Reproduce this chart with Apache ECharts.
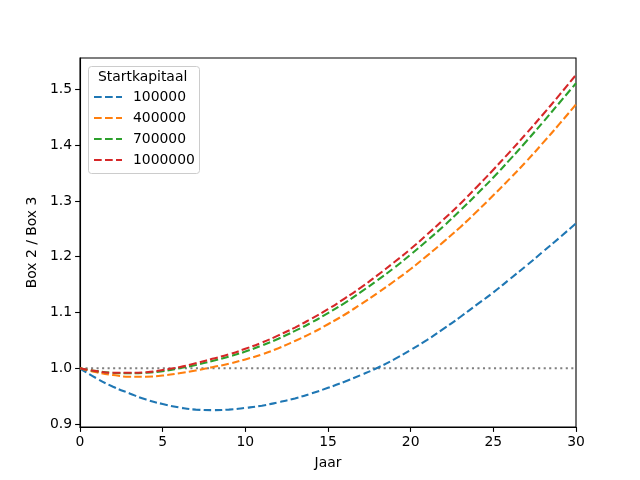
<!DOCTYPE html>
<html>
<head>
<meta charset="utf-8">
<script src="https://cdn.jsdelivr.net/npm/echarts@6/dist/echarts.min.js"></script>
<style>html,body{margin:0;padding:0;background:#fff}#c{width:640px;height:480px}</style>
</head>
<body>
<div id="c"></div>
<script>
const years = [0,1,2,3,4,5,6,7,8,9,10,11,12,13,14,15,16,17,18,19,20,21,22,23,24,25,26,27,28,29,30];
const seriesNames = ['100000','400000','700000','1000000'];
const s100000 = [1.000,0.982,0.967,0.955,0.944,0.936,0.930,0.926,0.925,0.926,0.929,0.933,0.939,0.946,0.955,0.965,0.976,0.988,1.001,1.016,1.033,1.051,1.071,1.092,1.114,1.136,1.160,1.184,1.209,1.234,1.260];
const s400000 = [1.000,0.993,0.988,0.985,0.985,0.987,0.991,0.996,1.002,1.008,1.016,1.025,1.036,1.049,1.063,1.079,1.096,1.115,1.135,1.156,1.178,1.202,1.227,1.253,1.281,1.310,1.340,1.371,1.404,1.438,1.473];
const s700000 = [1.000,0.995,0.992,0.991,0.992,0.995,1.000,1.006,1.013,1.021,1.030,1.041,1.053,1.067,1.082,1.099,1.117,1.137,1.158,1.180,1.204,1.229,1.255,1.283,1.312,1.342,1.374,1.407,1.441,1.476,1.511];
const s1000000 = [1.000,0.995,0.992,0.992,0.993,0.997,1.002,1.009,1.017,1.025,1.035,1.046,1.059,1.073,1.089,1.106,1.125,1.145,1.167,1.190,1.214,1.240,1.267,1.295,1.325,1.356,1.388,1.421,1.455,1.490,1.526];
const refLineX = [0, 30];
const refLineY = [1, 1];
const yTicks = [0.9,1.0,1.1,1.2,1.3,1.4,1.5];
const colors = ['#1f77b4','#ff7f0e','#2ca02c','#d62728'];

const allSeries = [s100000, s400000, s700000, s1000000];
const font = 'DejaVu Sans';
const chart = echarts.init(document.getElementById('c'), null, {renderer:'canvas'});
const series = allSeries.map((vals, i) => ({
  name: seriesNames[i],
  type: 'line',
  data: years.map((x, j) => [x, vals[j]]),
  smooth: true,
  symbol: 'none',
  color: colors[i],
  lineStyle: {width: 2.08, type: [7.7, 3.3], color: colors[i]},
  z: 3 + i
}));
series.unshift({
  name: 'ref',
  type: 'line',
  data: refLineX.map((x, j) => [x, refLineY[j]]),
  symbol: 'none',
  lineStyle: {width: 2.08, type: [2.08, 3.44], color: '#808080'},
  z: 2
});
chart.setOption({
  animation: false,
  textStyle: {fontFamily: font},
  grid: {left: 80, right: 64, top: 58, bottom: 53, show: true, borderColor: '#000', borderWidth: 1.1, backgroundColor: 'transparent'},
  xAxis: {
    type: 'value', min: 0, max: 30, interval: 5,
    name: 'Jaar', nameLocation: 'middle', nameGap: 29,
    nameTextStyle: {fontSize: 13.9, color: '#000', fontFamily: font, verticalAlign: 'top'},
    axisLine: {show: true, lineStyle: {color: '#000', width: 1.1}},
    axisTick: {show: true, inside: false, length: 4.9, lineStyle: {color: '#000', width: 1.1}},
    axisLabel: {fontSize: 13.9, color: '#000', margin: 8, fontFamily: font},
    splitLine: {show: false}
  },
  yAxis: {
    type: 'value', min: 0.8948, max: 1.5562,
    name: 'Box 2 / Box 3', nameLocation: 'middle', nameGap: 38,
    nameTextStyle: {fontSize: 13.9, color: '#000', fontFamily: font},
    axisLine: {show: true, lineStyle: {color: '#000', width: 1.1}},
    axisTick: {show: true, inside: false, length: 4.9, lineStyle: {color: '#000', width: 1.1}, customValues: yTicks},
    axisLabel: {fontSize: 13.9, color: '#000', margin: 8, fontFamily: font, customValues: yTicks, formatter: v => v.toFixed(1)},
    splitLine: {show: false}
  },
  legend: {
    data: seriesNames,
    orient: 'vertical', left: 93, top: 90,
    itemWidth: 28, itemHeight: 14, itemGap: 7,
    itemStyle: {opacity: 0},
    textStyle: {fontSize: 13.9, color: '#000', fontFamily: font, padding: [0,0,0,6]},
    padding: 0,
    z: 20
  },
  graphic: [
    {type: 'rect', left: 88, top: 66, shape: {width: 111, height: 107, r: 3}, style: {fill: 'rgba(255,255,255,0.8)', stroke: '#cccccc', lineWidth: 1}, z: 10},
    {type: 'text', left: 98, top: 70, style: {text: 'Startkapitaal', font: '13.9px "DejaVu Sans"', fill: '#000'}, z: 11}
  ],
  series: series
});
</script>
</body>
</html>
